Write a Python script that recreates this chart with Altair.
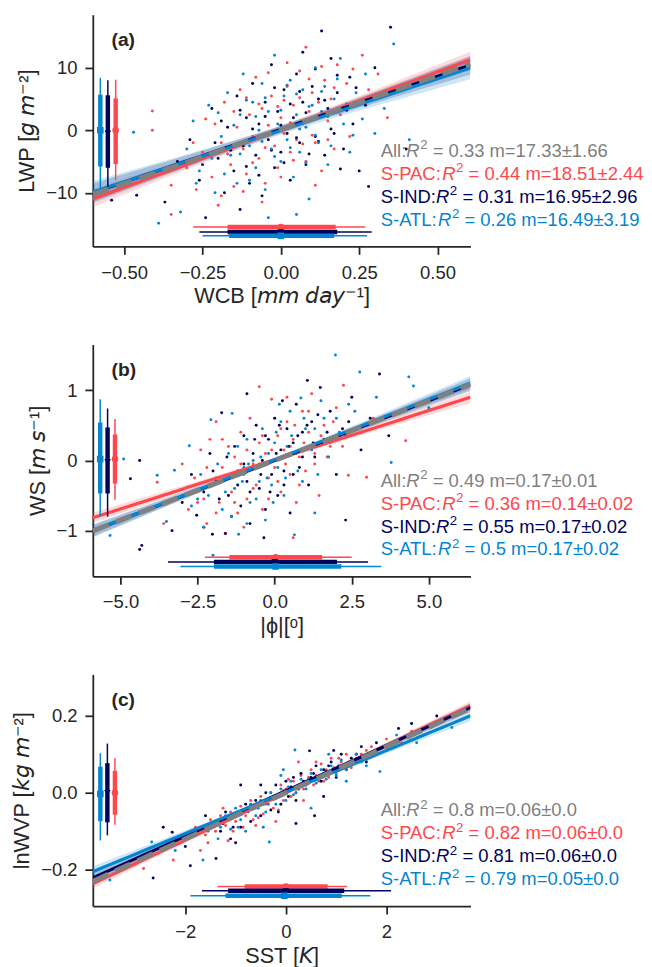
import numpy as np
import pandas as pd
import altair as alt

# ---------------- colours / regions ----------------
REGIONS = ["All", "S-PAC", "S-IND", "S-ATL"]
COLORS = ["#808080", "#ff474c", "#00035b", "#0485d1"]
SUB = ["S-PAC", "S-IND", "S-ATL"]

# ---------------- panel (a): WCB vs LWP ----------------
a_pac = [(-0.41,3.1),(-0.41,0.0),(-0.35,-8.8),(-0.35,-13.5),(-0.30,-6.0),(-0.27,-9.5),(-0.25,-3.5),(-0.24,1.8),
         (-0.22,-7.5),(-0.20,-12.0),(-0.19,-2.0),(-0.18,4.5),(-0.16,-5.5),(-0.15,-9.0),(-0.14,0.5),(-0.13,6.5),
         (-0.12,-3.0),(-0.11,-7.0),(-0.10,2.5),(-0.09,-1.0),(-0.08,8.5),(-0.07,-4.5),(-0.06,3.5),(-0.05,-8.5),
         (-0.04,0.8),(-0.03,5.5),(-0.02,-2.5),(-0.01,-6.0),(0.00,2.0),(0.01,-0.5),(0.02,7.0),(0.03,-3.5),
         (0.04,4.0),(0.05,-1.5),(0.06,9.5),(0.07,1.0),(0.08,13.3),(0.08,-5.0),(0.09,3.0),(0.10,6.0),(0.11,-2.0),
         (0.12,4.5),(0.13,-6.5),(0.14,8.0),(0.15,1.5),(0.16,5.0),(0.17,-3.0),(0.18,10.5),(0.19,2.5),(0.21,7.5),
         (0.22,-1.0),(0.24,4.0),(0.26,12.0),(0.28,6.5),(0.31,9.0),(0.34,2.0),(-0.06,-11.5),(0.02,10.8),
         (-0.21,1.0),(-0.17,-3.8),(-0.15,3.0),(-0.12,-9.8),(-0.11,5.2),(-0.09,-5.2),(-0.07,4.2),(-0.05,-2.8),
         (-0.04,9.2),(-0.03,-0.5),(-0.01,3.8),(0.0,-7.5),(0.01,4.8),(0.03,1.2),(0.04,-4.8),(0.06,5.2),(0.07,-2.2),
         (0.09,8.2),(0.10,-0.8),(0.12,2.2),(0.13,10.2),(0.15,-1.5),(0.17,6.8),(0.20,3.5),(0.23,9.8),(-0.28,-2.0),
         (-0.19,-10.5),(0.11,-8.8)]
a_ind = [(-0.54,-11.2),(-0.46,-10.4),(-0.37,-11.5),(-0.33,-5.0),(-0.29,-1.5),(-0.26,-8.0),(-0.24,-14.0),(-0.22,3.5),
         (-0.20,-4.5),(-0.18,-10.0),(-0.17,0.5),(-0.15,-6.5),(-0.14,5.5),(-0.13,-12.7),(-0.12,-2.5),(-0.11,2.0),
         (-0.10,-8.5),(-0.09,7.5),(-0.08,-4.0),(-0.07,1.0),(-0.06,-10.5),(-0.05,4.5),(-0.04,-1.5),(-0.03,10.5),
         (-0.02,-6.0),(-0.01,3.0),(0.00,-3.5),(0.01,6.5),(0.02,-0.5),(0.03,-8.0),(0.04,2.0),(0.05,9.0),(0.06,-2.0),
         (0.07,4.5),(0.08,-5.5),(0.09,1.5),(0.10,7.0),(0.11,-1.0),(0.12,5.0),(0.13,15.9),(0.14,-4.0),(0.15,3.5),
         (0.16,11.5),(0.17,-0.5),(0.18,6.0),(0.20,-3.0),(0.22,8.5),(0.23,1.0),(0.25,-6.5),(0.27,4.0),(0.30,10.0),
         (0.35,16.5),(0.40,-3.0),(0.28,-9.0),
         (-0.21,-2.0),(-0.19,1.5),(-0.16,-3.2),(-0.13,3.2),(-0.11,-5.8),(-0.09,0.2),(-0.07,-7.2),(-0.05,2.2),
         (-0.03,-3.2),(-0.02,6.8),(0.0,0.8),(0.01,-5.2),(0.03,4.2),(0.05,-1.2),(0.06,6.2),(0.08,2.8),(0.09,-3.8),
         (0.11,9.8),(0.12,-1.8),(0.14,4.8),(0.16,0.2),(0.18,8.8),(0.19,-6.2),(0.21,3.2),(0.24,6.8),(-0.25,-5.5),
         (0.07,12.5)]
a_atl = [(-0.47,-0.3),(-0.39,-14.9),(-0.32,-13.1),(-0.30,-3.0),(-0.28,1.5),(-0.26,-6.5),(-0.23,4.0),(-0.21,-10.0),
         (-0.19,-1.0),(-0.17,6.0),(-0.16,-4.0),(-0.14,-8.5),(-0.13,2.5),(-0.12,9.0),(-0.10,-2.5),(-0.09,4.5),
         (-0.08,-6.0),(-0.07,0.0),(-0.06,7.5),(-0.05,-9.5),(-0.04,3.0),(-0.03,-3.0),(-0.02,12.0),(-0.01,1.0),
         (0.00,-5.0),(0.01,5.5),(0.02,-1.5),(0.03,8.0),(0.04,-7.5),(0.05,2.5),(0.06,-3.5),(0.07,6.5),(0.08,0.5),
         (0.09,-11.0),(0.10,4.0),(0.11,10.0),(0.12,-2.0),(0.13,3.0),(0.14,7.0),(0.15,-5.5),(0.17,5.0),(0.19,11.5),
         (0.20,1.0),(0.22,-3.5),(0.24,6.0),(0.27,9.0),(0.30,-0.5),(0.33,3.5),(0.36,13.8),(0.41,-1.5),(-0.04,-14.0),
         (0.05,-13.5),
         (-0.22,-4.5),(-0.2,2.8),(-0.18,-7.0),(-0.15,0.8),(-0.13,-3.8),(-0.11,4.8),(-0.1,-8.0),(-0.08,2.2),
         (-0.06,-1.8),(-0.05,5.2),(-0.02,-4.2),(0.0,3.2),(0.02,7.2),(0.03,-2.8),(0.05,5.8),(0.06,0.2),(0.08,-5.2),
         (0.09,3.8),(0.11,-0.8),(0.13,6.2),(0.15,2.2),(0.16,-2.5),(0.18,8.2),(0.21,4.2),(0.23,-0.8),(-0.27,-8.5),
         (0.26,1.8)]
a_slope = [17.33, 18.51, 16.95, 16.49]
a_icpt = [0.1, 0.1, 0.17, 0.0]
a_band0 = [0.4, 0.6, 0.6, 0.7]
a_bandE = [0.9, 1.3, 1.5, 1.8]
a_r2 = ["0.33", "0.44", "0.31", "0.26"]
a_m = ["17.33±1.66", "18.51±2.44", "16.95±2.96", "16.49±3.19"]
# box summaries: position, whisker low/high, box low/high, median  (order S-PAC, S-IND, S-ATL)
a_vbox = [(-0.527, -8.0, 8.1, -5.4, 5.1, 0.0), (-0.552, -9.1, 8.0, -6.0, 5.6, -0.5), (-0.576, -9.3, 8.4, -5.8, 5.7, 0.0)]
a_hbox = [(-15.5, -0.28, 0.27, -0.17, 0.175, 0.0), (-16.3, -0.26, 0.29, -0.17, 0.18, 0.0), (-16.9, -0.25, 0.275, -0.165, 0.17, 0.0)]

# ---------------- panel (b): |phi| vs WS ----------------
b_pac = [(-3.81,-0.31),(-3.6,-0.9),(-3.3,-0.45),(-3.0,-0.05),(-2.8,-0.7),(-2.6,-0.25),(-2.4,0.15),(-2.3,-0.55),
         (-2.2,-0.9),(-2.1,0.3),(-2.0,-0.35),(-1.9,0.55),(-1.8,-0.6),(-1.7,-0.1),(-1.6,-1.04),(-1.5,0.2),(-1.4,-0.45),
         (-1.3,0.05),(-1.2,-0.75),(-1.1,0.4),(-1.0,-0.2),(-0.9,-0.55),(-0.8,0.6),(-0.7,-0.05),(-0.6,-0.35),(-0.5,0.25),
         (-0.4,-0.7),(-0.3,0.1),(-0.2,-0.25),(-0.1,0.87),(0.0,-0.1),(0.1,0.35),(0.2,-0.45),(0.3,0.15),(0.4,0.55),
         (0.5,-0.2),(0.6,0.3),(0.7,-0.6),(0.8,0.05),(0.9,0.7),(1.0,-0.15),(1.1,0.4),(1.2,0.95),(1.3,0.1),(1.44,-0.5),
         (1.6,0.5),(1.8,0.2),(2.0,0.75),(2.23,1.07),(2.39,-0.21),(2.6,0.45),(2.98,-0.24),(3.2,0.6),(4.25,0.28),
         (-0.5,1.05),(0.6,-1.1),
         (-2.5,-0.6),(-2.2,-0.1),(-1.9,-0.75),(-1.7,0.3),(-1.5,-0.25),(-1.3,-0.6),(-1.1,-0.05),(-0.9,0.15),(-0.7,-0.4),
         (-0.5,-0.05),(-0.4,0.35),(-0.2,-0.55),(-0.1,0.15),(0.1,-0.3),(0.2,0.45),(0.35,-0.05),(0.5,0.2),(0.65,0.5),
         (0.8,-0.35),(0.95,0.25),(1.1,0.7),(1.3,-0.05),(1.5,0.35),(1.7,0.05),(1.9,0.55),(2.2,0.2),(-1.0,-0.95),(0.4,0.9)]
b_ind = [(-4.68,-0.26),(-4.38,0.0),(-4.38,-1.27),(-4.31,-1.21),(-3.33,-1.0),(-3.0,-0.6),(-2.7,-0.2),(-2.53,-0.78),
         (-2.3,-0.45),(-2.1,0.1),(-2.02,-1.05),(-1.9,-0.3),(-1.72,0.68),(-1.6,-1.04),(-1.5,-0.5),(-1.3,0.2),(-1.2,-0.15),
         (-1.1,-0.65),(-1.0,0.35),(-0.9,-0.3),(-0.8,-0.9),(-0.7,0.1),(-0.6,0.5),(-0.5,-0.4),(-0.4,0.0),(-0.3,-0.7),
         (-0.2,0.3),(-0.1,-0.2),(0.0,0.6),(0.1,-0.5),(0.2,0.15),(0.3,-0.15),(0.4,0.45),(0.5,-0.75),(0.6,0.25),(0.7,0.8),
         (0.8,-0.1),(0.9,0.4),(1.06,1.14),(1.1,-0.35),(1.2,0.55),(1.3,0.05),(1.48,1.04),(1.6,0.3),(1.8,0.7),(2.0,-0.2),
         (2.2,0.45),(2.5,0.9),(2.8,0.15),(3.1,0.6),(3.4,1.23),(3.7,0.35),(2.3,-0.85),(-0.9,0.95),
         (-2.6,-0.45),(-2.3,-0.95),(-2.0,-0.15),(-1.8,-0.55),(-1.55,0.05),(-1.4,-0.8),(-1.2,-0.35),(-1.0,-0.05),
         (-0.8,-0.45),(-0.65,0.3),(-0.45,-0.2),(-0.3,0.35),(-0.15,-0.45),(0.05,0.1),(0.15,0.5),(0.3,-0.35),(0.45,0.2),
         (0.6,-0.2),(0.75,0.35),(0.9,0.05),(1.05,0.5),(1.25,0.25),(1.4,0.65),(1.7,0.4),(2.0,0.3),(2.4,0.55),(0.25,0.85),
         (-0.35,-1.1)]
b_atl = [(-5.34,-1.07),(-4.9,0.02),(-3.81,-0.21),(-3.51,-0.87),(-3.25,-0.14),(-2.77,0.21),(-2.5,-0.55),(-2.3,-0.95),
         (-2.07,0.58),(-1.9,-0.25),(-1.7,-0.7),(-1.5,0.1),(-1.38,0.67),(-1.3,-0.4),(-1.17,-1.05),(-1.0,-0.1),(-0.9,0.3),
         (-0.8,-0.6),(-0.7,0.0),(-0.5,-0.3),(-0.4,0.45),(-0.3,-0.85),(-0.2,0.1),(-0.1,-0.35),(0.0,0.25),(0.1,-0.1),
         (0.2,0.55),(0.3,-0.5),(0.4,0.2),(0.5,0.7),(0.64,-1.06),(0.7,0.1),(0.85,0.89),(0.9,-0.3),(1.0,0.45),(1.2,0.15),
         (1.4,-0.2),(1.6,0.6),(1.8,0.25),(1.97,1.5),(2.1,0.4),(2.4,0.8),(2.76,1.26),(3.0,0.5),(3.3,0.9),(3.78,-0.03),
         (4.35,1.19),(4.5,1.06),(5.0,0.75),(1.3,-0.75),(-2.0,-1.35),
         (-2.7,-0.65),(-2.4,-0.2),(-2.15,-0.5),(-1.85,-0.05),(-1.6,-0.45),(-1.4,-0.8),(-1.2,0.2),(-1.05,-0.3),
         (-0.85,-0.05),(-0.6,-0.55),(-0.45,0.05),(-0.25,-0.25),(-0.05,-0.6),(0.05,0.4),(0.25,0.05),(0.35,-0.25),
         (0.55,0.35),(0.75,-0.15),(0.95,0.6),(1.1,0.2),(1.3,0.45),(1.5,0.85),(1.75,0.05),(2.0,0.6),(2.3,0.35),(2.6,0.7),
         (-0.9,-0.9),(0.15,0.8)]
b_slope = [0.17, 0.14, 0.17, 0.172]
b_icpt = [0.0, 0.01, 0.0, 0.01]
b_band0 = [0.02, 0.03, 0.03, 0.03]
b_bandE = [0.05, 0.08, 0.09, 0.10]
b_r2 = ["0.49", "0.36", "0.55", "0.5"]
b_m = ["0.17±0.01", "0.14±0.02", "0.17±0.02", "0.17±0.02"]
b_vbox = [(-5.18, -0.56, 0.59, -0.33, 0.37, 0.02), (-5.42, -0.80, 0.74, -0.47, 0.47, -0.02), (-5.66, -0.80, 0.87, -0.47, 0.54, 0.02)]
b_hbox = [(-1.38, -2.26, 2.5, -1.47, 1.54, 0.03), (-1.445, -3.46, 3.03, -1.97, 2.02, 0.0), (-1.51, -3.06, 3.46, -1.97, 2.16, 0.03)]

# ---------------- panel (c): SST vs lnWVP ----------------
c_pac = [(-2.83,-0.197),(-2.24,-0.175),(-2.0,-0.12),(-1.8,-0.09),(-1.6,-0.11),(-1.5,-0.07),(-1.4,-0.1),(-1.3,-0.06),
         (-1.2,-0.085),(-1.1,-0.05),(-1.0,-0.075),(-0.9,-0.035),(-0.85,-0.09),(-0.8,-0.06),(-0.7,-0.02),(-0.65,-0.07),
         (-0.6,-0.04),(-0.5,-0.01),(-0.45,-0.055),(-0.4,-0.03),(-0.3,0.0),(-0.25,-0.04),(-0.2,-0.015),(-0.1,0.02),
         (-0.05,-0.02),(0.0,0.01),(0.1,-0.01),(0.15,0.03),(0.2,0.0),(0.3,0.045),(0.35,0.01),(0.4,0.03),(0.5,0.06),
         (0.55,0.02),(0.6,0.045),(0.7,0.075),(0.75,0.03),(0.8,0.06),(0.9,0.09),(1.0,0.05),(1.1,0.08),(1.2,0.1),
         (1.3,0.065),(1.4,0.09),(1.6,0.11),(1.8,0.1),(2.0,0.14),(2.3,0.13),(2.5,0.16),(-0.2,-0.075),(0.25,0.08),(-1.7,-0.15),
         (-1.55,-0.13),(-1.25,-0.04),(-1.05,-0.1),(-0.95,-0.06),(-0.75,-0.045),(-0.55,-0.065),(-0.35,-0.02),
         (-0.15,-0.045),(-0.05,0.005),(0.05,0.035),(0.25,0.015),(0.45,0.04),(0.65,0.03),(0.85,0.04),(0.95,0.065),
         (1.05,0.09),(1.25,0.08),(1.5,0.1),(1.7,0.12),(0.6,0.08),(-0.6,-0.085),(0.35,-0.02),(-1.15,-0.125)]
c_ind = [(-2.64,-0.222),(-2.44,-0.09),(-2.26,-0.103),(-2.0,-0.14),(-1.8,-0.1),(-1.6,-0.06),(-1.39,-0.171),(-1.3,-0.1),
         (-1.2,-0.05),(-1.1,-0.12),(-1.0,-0.06),(-0.9,-0.09),(-0.8,-0.03),(-0.7,-0.075),(-0.6,-0.02),(-0.5,-0.06),
         (-0.4,0.0),(-0.3,-0.045),(-0.2,0.02),(-0.1,-0.03),(0.0,0.03),(0.05,-0.01),(0.1,0.015),(0.2,-0.02),(0.3,0.05),
         (0.4,0.02),(0.47,0.109),(0.5,0.04),(0.57,-0.06),(0.6,0.07),(0.7,0.03),(0.8,0.055),(0.9,0.08),(1.0,0.04),
         (1.1,0.1),(1.2,0.06),(1.3,0.09),(1.5,0.12),(1.6,0.08),(1.8,0.13),(2.0,0.11),(2.24,0.167),(2.5,0.18),(3.0,0.2),
         (-0.9,0.02),(0.2,-0.08),(-1.9,-0.19),
         (-1.5,-0.09),(-1.25,-0.08),(-1.05,-0.09),(-0.85,-0.05),(-0.65,-0.04),(-0.45,-0.03),(-0.25,-0.01),
         (-0.15,-0.05),(0.15,0.04),(0.25,0.01),(0.35,0.03),(0.55,0.05),(0.65,0.04),(0.75,0.06),(0.85,0.07),(1.05,0.07),
         (1.25,0.075),(1.4,0.1),(1.7,0.1),(-0.5,0.02),(0.75,-0.01),(-1.0,-0.13),(0.95,0.11)]
c_atl = [(-3.5,-0.227),(-2.67,-0.128),(-2.2,-0.15),(-1.9,-0.1),(-1.65,-0.175),(-1.5,-0.08),(-1.35,-0.12),(-1.2,-0.06),
         (-1.1,-0.095),(-1.0,-0.04),(-0.9,-0.07),(-0.8,-0.1),(-0.7,-0.03),(-0.6,-0.06),(-0.5,-0.02),(-0.4,-0.05),
         (-0.33,-0.128),(-0.3,0.0),(-0.2,-0.03),(-0.1,0.01),(0.0,-0.02),(0.1,0.03),(0.18,0.111),(0.2,0.0),(0.3,0.035),
         (0.4,0.01),(0.5,0.05),(0.6,0.025),(0.7,0.06),(0.8,0.035),(0.9,0.07),(1.0,0.045),(1.1,0.085),(1.2,0.06),
         (1.4,0.1),(1.6,0.07),(1.87,0.055),(2.0,0.12),(2.2,0.15),(2.6,0.13),(3.3,0.17),(-0.05,0.06),(0.5,-0.04),
         (-1.55,-0.1),(-1.3,-0.09),(-1.05,-0.065),(-0.95,-0.09),(-0.75,-0.05),(-0.55,-0.04),(-0.35,-0.03),
         (-0.15,-0.01),(0.05,0.015),(0.15,-0.005),(0.35,0.02),(0.45,0.035),(0.65,0.04),(0.75,0.05),(0.95,0.055),
         (1.15,0.07),(1.3,0.08),(1.5,0.08),(1.75,0.1),(-0.45,-0.09),(0.85,0.1),(-0.1,0.045),(1.2,0.03)]
c_slope = [0.06, 0.0617, 0.059, 0.054]
c_icpt = [0.0, 0.0, 0.005, 0.002]
c_band0 = [0.002, 0.003, 0.003, 0.003]
c_bandE = [0.007, 0.012, 0.012, 0.014]
c_r2 = ["0.8", "0.82", "0.81", "0.79"]
c_m = ["0.06±0.0", "0.06±0.0", "0.06±0.0", "0.05±0.0"]
c_vbox = [(-3.40, -0.083, 0.09, -0.057, 0.057, 0.0), (-3.55, -0.111, 0.128, -0.077, 0.077, 0.0), (-3.69, -0.124, 0.103, -0.074, 0.068, -0.003)]
c_hbox = [(-0.244, -1.36, 1.22, -0.82, 0.83, 0.0), (-0.255, -1.67, 2.09, -1.15, 1.16, 0.0), (-0.268, -1.9, 1.68, -1.2, 1.11, -0.03)]

# ---------------- styling ----------------
FONT = "Liberation Sans"
W, H = 383, 235
ANN_FS = 18.7
SUP_FS = 13.5
INK = "#262626"
# Arial / Liberation Sans advance widths (per 1000 em)
ADV = {"A": 667, "l": 222, ":": 278, "S": 667, "-": 333, "P": 667, "C": 722, "I": 278, "N": 722,
       "D": 722, "T": 611, "L": 556, " ": 278}


def tw(s, fs):
    return sum(ADV.get(ch, 556) for ch in s) * fs / 1000.0


color_scale = alt.Scale(domain=REGIONS, range=COLORS)
shape_scale = alt.Scale(domain=SUB, range=["circle", "triangle-down", "square"])


def panel(tag, pts, slope, icpt, b0, bE, r2, mtxt, vbox, hbox, xdom, ydom, xticks, yticks,
          xfmt, yfmt, xtitle, ytitle):
    def X(f):
        return alt.X(f, type="quantitative", scale=alt.Scale(domain=xdom, nice=False, zero=False),
                     axis=alt.Axis(values=xticks, format=xfmt, title=xtitle))

    def Y(f):
        return alt.Y(f, type="quantitative", scale=alt.Scale(domain=ydom, nice=False, zero=False),
                     axis=alt.Axis(values=yticks, format=yfmt, title=ytitle))

    col = alt.Color("region:N", scale=color_scale, legend=None)

    # scatter
    rows = []
    for reg, lst in zip(SUB, pts):
        for x, y in lst:
            rows.append({"x": x, "y": y, "region": reg})
    pdf = pd.DataFrame(rows)

    # regression lines and confidence bands
    xs = np.linspace(xdom[0], xdom[1], 41)
    xe = max(abs(xdom[0]), abs(xdom[1]))
    lrows = []
    for reg, s, c0, h0, he in zip(REGIONS, slope, icpt, b0, bE):
        for x in xs:
            yv = c0 + s * x
            hw = np.sqrt(h0 ** 2 + (he ** 2 - h0 ** 2) * (x / xe) ** 2)
            lrows.append({"x": x, "y": yv, "lo": yv - hw, "hi": yv + hw, "region": reg})
    ldf = pd.DataFrame(lrows)

    bands = alt.Chart(ldf).mark_area(opacity=0.2, clip=True).encode(
        x=X("x"), y=Y("lo"), y2="hi", color=col)
    scat = alt.Chart(pdf).mark_circle(size=9, opacity=1, clip=True).encode(
        x=X("x"), y=Y("y"), color=col)
    lines = alt.Chart(ldf[ldf.region != "All"]).mark_line(strokeWidth=3.2, clip=True).encode(
        x=X("x"), y=Y("y"), color=col, detail="region:N")
    allline = alt.Chart(ldf[ldf.region == "All"]).mark_line(
        strokeWidth=5, strokeDash=[17, 8], color=COLORS[0], clip=True).encode(x=X("x"), y=Y("y"))

    vdf = pd.DataFrame([{"p": v[0], "wl": v[1], "wh": v[2], "bl": v[3], "bh": v[4], "med": v[5], "region": r}
                        for r, v in zip(SUB, vbox)])
    hdf = pd.DataFrame([{"p": v[0], "wl": v[1], "wh": v[2], "bl": v[3], "bh": v[4], "med": v[5], "region": r}
                        for r, v in zip(SUB, hbox)])
    shp = alt.Shape("region:N", scale=shape_scale, legend=None)
    vw = alt.Chart(vdf).mark_rule(strokeWidth=1.5).encode(x=X("p"), y=Y("wl"), y2="wh", color=col)
    vb = alt.Chart(vdf).mark_rule(strokeWidth=4.5).encode(x=X("p"), y=Y("bl"), y2="bh", color=col)
    vm = alt.Chart(vdf).mark_point(filled=True, size=45, opacity=1).encode(x=X("p"), y=Y("med"), color=col, shape=shp)
    hw_ = alt.Chart(hdf).mark_rule(strokeWidth=1.5).encode(y=Y("p"), x=X("wl"), x2="wh", color=col)
    hb = alt.Chart(hdf).mark_rule(strokeWidth=4.5).encode(y=Y("p"), x=X("bl"), x2="bh", color=col)
    hm = alt.Chart(hdf).mark_point(filled=True, size=45, opacity=1).encode(y=Y("p"), x=X("med"), color=col, shape=shp)

    layers = [bands, scat, lines, allline, vw, vb, vm, hw_, hb, hm]

    # annotations (axes-fraction placement)
    x0 = 292
    base = [144, 167.3, 190.6, 213.9]
    for i, reg in enumerate(REGIONS):
        prefix = "All:" if reg == "All" else reg + ":"
        c = COLORS[i]
        yb = base[i]
        xr = x0 + tw(prefix, ANN_FS)
        x2 = xr + 722 * ANN_FS / 1000.0 + 0.5
        xrest = x2 + 556 * SUP_FS / 1000.0 + 278 * ANN_FS / 1000.0
        rest = "= " + r2[i] + " m=" + mtxt[i]
        parts = [(prefix, x0, yb, ANN_FS, "normal"), ("R", xr, yb, ANN_FS, "italic"),
                 ("2", x2, yb - 7.5, SUP_FS, "normal"), (rest, xrest, yb, ANN_FS, "normal")]
        for txt, px, py, fs, st in parts:
            layers.append(alt.Chart(pd.DataFrame({"t": [txt]})).mark_text(
                align="left", baseline="alphabetic", font=FONT, fontSize=fs, fontStyle=st, color=c
            ).encode(text="t:N", x=alt.value(px), y=alt.value(py)))
    layers.append(alt.Chart(pd.DataFrame({"t": [tag]})).mark_text(
        align="left", baseline="alphabetic", font=FONT, fontSize=19.5, fontWeight="bold", color=INK
    ).encode(text="t:N", x=alt.value(19), y=alt.value(32)))

    return alt.layer(*layers).properties(width=W, height=H)


pa = panel("(a)", [a_pac, a_ind, a_atl], a_slope, a_icpt, a_band0, a_bandE, a_r2, a_m, a_vbox, a_hbox,
           [-0.6, 0.605], [-18.6, 18.5], [-0.5, -0.25, 0.0, 0.25, 0.5], [-10, 0, 10], ".2f", "d",
           "WCB [𝘮𝘮 𝘥𝘢𝘺⁻¹]", "LWP [𝘨 𝘮⁻²]")
pb = panel("(b)", [b_pac, b_ind, b_atl], b_slope, b_icpt, b_band0, b_bandE, b_r2, b_m, b_vbox, b_hbox,
           [-5.9, 6.35], [-1.65, 1.65], [-5.0, -2.5, 0.0, 2.5, 5.0], [-1, 0, 1], ".1f", "d",
           "|ϕ|[ᵒ]", "WS [𝘮 𝘴⁻¹]")
pc = panel("(c)", [c_pac, c_ind, c_atl], c_slope, c_icpt, c_band0, c_bandE, c_r2, c_m, c_vbox, c_hbox,
           [-3.84, 3.67], [-0.295, 0.308], [-2, 0, 2], [-0.2, 0.0, 0.2], "d", ".1f",
           "SST [𝘒]", "lnWVP [𝘬𝘨 𝘮⁻²]")

chart = alt.vconcat(pa, pb, pc, spacing=38.5).properties(
    padding={"left": 3, "top": 0, "right": 0, "bottom": 0}
).configure_view(stroke=None).configure_axis(
    domainColor=INK, domainWidth=1.8, tickColor=INK, tickWidth=1.8, tickSize=8,
    labelFont=FONT, labelFontSize=18.7, labelColor=INK, labelFlush=False, labelOverlap=False,
    titleFont=FONT, titleFontSize=22, titleFontWeight="normal", titleColor=INK, grid=False
).configure_axisX(labelPadding=9, titlePadding=4).configure_axisY(labelPadding=8, titlePadding=7)

chart.save("out.html", embed_options={"renderer": "svg", "actions": False})
